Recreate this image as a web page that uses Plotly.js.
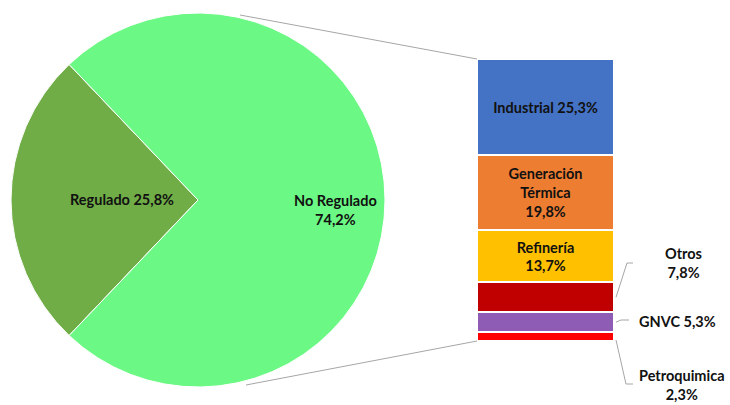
<!DOCTYPE html>
<html><head><meta charset="utf-8">
<script src="https://cdn.plot.ly/plotly-3.0.1.min.js"></script>
<style>html,body{margin:0;padding:0;background:#fff}#chart{width:730px;height:405px}</style>
</head><body><div id="chart"></div>
<script>
// ---- data ----
var pieLabels = ['Regulado', 'No Regulado'];
var pieValues = [25.8, 74.2];
var pieColors = ['#70AD47', '#6BF884'];

// bar segments, bottom to top
var barLabels = ['Petroquimica', 'GNVC', 'Otros', 'Refinería', 'Generación<br>Térmica', 'Industrial'];
var barValues = [2.3, 5.3, 7.8, 13.7, 19.8, 25.3];
var barColors = ['#FF0000', '#8E5BB5', '#C00000', '#FFC000', '#ED7D31', '#4472C4'];
var barInside = [false, false, false, true, true, true];
var insideSep = ['', '', '', '<br>', '<br>', ' '];

function fmt(v) { return v.toFixed(1).replace('.', ',') + '%'; }

var W = 730, H = 405;
var FONT = 'Lato, "Open Sans", sans-serif';
var FS = 14.5;
var pieDomX = [11 / W, 385 / W], pieDomY = [1 - 388 / H, 1 - 12 / H];
var barDomX = [477 / W, 614 / W], barDomY = [1 - 341 / H, 1 - 59 / H];
var total = barValues.reduce(function (a, b) { return a + b; }, 0);
var yRange = [0, total];
function yPaper(v) { return barDomY[0] + (v - yRange[0]) / (yRange[1] - yRange[0]) * (barDomY[1] - barDomY[0]); }
function px2x(p) { return p / W; }
function px2y(p) { return 1 - p / H; }

var traces = [];
traces.push({
  type: 'pie', labels: pieLabels, values: pieValues, sort: false, direction: 'clockwise',
  rotation: 270 - pieValues[0] / (pieValues[0] + pieValues[1]) * 180,
  marker: { colors: pieColors, line: { color: '#ffffff', width: 1 } },
  textinfo: 'none', hoverinfo: 'label+percent', showlegend: false,
  domain: { x: pieDomX, y: pieDomY }
});
for (var i = 0; i < barValues.length; i++) {
  traces.push({
    type: 'bar', x: ['No Regulado'], y: [barValues[i]], name: barLabels[i],
    marker: { color: barColors[i], line: { color: '#ffffff', width: 2 } },
    text: barInside[i] ? ['<b>' + barLabels[i] + insideSep[i] + fmt(barValues[i]) + '</b>'] : [''],
    textposition: barInside[i] ? 'inside' : 'none', insidetextanchor: 'middle',
    textangle: 0, constraintext: 'none',
    insidetextfont: { family: FONT, size: FS, color: '#111111' },
    showlegend: false, hoverinfo: 'name+y'
  });
}

function annot(x, y, text) {
  return { xref: 'paper', yref: 'paper', x: px2x(x), y: px2y(y), xanchor: 'center', yanchor: 'middle',
    showarrow: false, text: text, font: { family: FONT, size: FS, color: '#111' } };
}

var ann = [];
ann.push(annot(122, 199, '<b>' + pieLabels[0] + ' ' + fmt(pieValues[0]) + '</b>'));
ann.push(annot(335, 210, '<b>' + pieLabels[1] + '<br>' + fmt(pieValues[1]) + '</b>'));

// outside labels
var outside = [
  { i: 2, tx: 683, ty: 263, sep: '<br>', lx: 627, ly: 263, hx: 633, sy: null },
  { i: 1, tx: 677, ty: 321, sep: ' ', lx: 621, ly: 320, hx: 629, sy: null },
  { i: 0, tx: 682, ty: 385, sep: '<br>', lx: 626, ly: 384, hx: 633, sy: 340 }
];
var shapes = [];
var cum = [0];
for (var k = 0; k < barValues.length; k++) cum.push(cum[k] + barValues[k]);
outside.forEach(function (o) {
  ann.push(annot(o.tx, o.ty, '<b>' + barLabels[o.i] + o.sep + fmt(barValues[o.i]) + '</b>'));
  var midY = yPaper(cum[o.i] + barValues[o.i] / 2);
  if (o.sy !== null) midY = px2y(o.sy);
  var xr = barDomX[1] + 2 / W;
  shapes.push({ type: 'line', xref: 'paper', yref: 'paper', x0: xr, y0: midY, x1: px2x(o.lx), y1: px2y(o.ly), line: { color: '#A6A6A6', width: 1 } });
  shapes.push({ type: 'line', xref: 'paper', yref: 'paper', x0: px2x(o.lx), y0: px2y(o.ly), x1: px2x(o.hx), y1: px2y(o.ly), line: { color: '#A6A6A6', width: 1 } });
});
// connector lines from pie to bar
shapes.push({ type: 'line', xref: 'paper', yref: 'paper', x0: px2x(240), y0: px2y(15), x1: barDomX[0], y1: yPaper(total), line: { color: '#A6A6A6', width: 1 }, layer: 'below' });
shapes.push({ type: 'line', xref: 'paper', yref: 'paper', x0: px2x(246), y0: px2y(385), x1: barDomX[0], y1: yPaper(0), line: { color: '#A6A6A6', width: 1 }, layer: 'below' });

var layout = {
  width: W, height: H, margin: { l: 0, r: 0, t: 0, b: 0 },
  paper_bgcolor: '#ffffff', plot_bgcolor: 'rgba(0,0,0,0)',
  barmode: 'stack', bargap: 0,
  xaxis: { domain: barDomX, visible: false, range: [-0.5, 0.5], fixedrange: true },
  yaxis: { domain: barDomY, visible: false, range: yRange, fixedrange: true },
  annotations: ann, shapes: shapes,
  font: { family: FONT }
};
Plotly.newPlot('chart', traces, layout, { displayModeBar: false, staticPlot: true });
</script></body></html>
